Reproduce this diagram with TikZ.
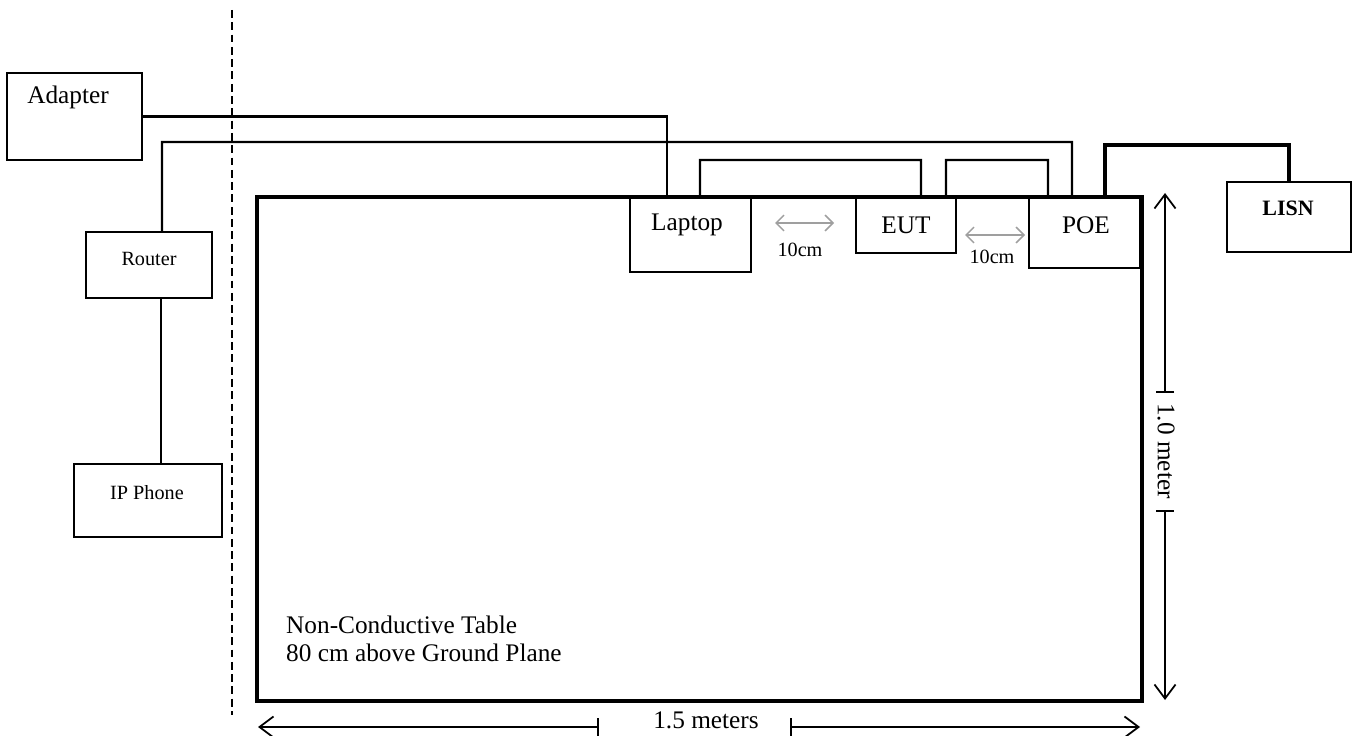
\documentclass[tikz,border=0pt]{standalone}
\usepackage{fontspec}
\setmainfont{Liberation Serif}
\usetikzlibrary{arrows.meta}

\begin{document}
\begin{tikzpicture}[x=0.02cm, y=-0.02cm,
  box/.style={draw, line width=1.2pt, inner sep=0pt},
  cable/.style={line width=1.2pt},
  big/.style={font=\fontsize{14.4}{16}\selectfont},
  small/.style={font=\fontsize{11.5}{14}\selectfont},
  dim/.style={line width=1pt},
  gap/.style={gray!75, line width=0.9pt, {Straight Barb[length=4.5pt,width=9pt]}-{Straight Barb[length=4.5pt,width=9pt]}}]
\useasboundingbox (0,0) rectangle (1360,736);

\draw[line width=1.1pt, dash pattern=on 4.5pt off 2.5pt] (232,10) -- (232,715);

\node[draw, line width=2.3pt, minimum width=17.7cm, minimum height=10.08cm] (table) at (699.5,449) {};

\node[box, minimum width=2.7cm, minimum height=1.74cm] (adapter) at (74.5,116.5) {};
\node[box, minimum width=2.52cm, minimum height=1.32cm] (router) at (149,265) {};
\node[box, minimum width=2.96cm, minimum height=1.46cm] (phone) at (148,500.5) {};
\node[box, minimum width=2.42cm, minimum height=1.5cm] (laptop) at (690.5,234.5) {};
\node[box, minimum width=2cm, minimum height=1.12cm] (eut) at (906,225) {};
\node[box, minimum width=2.22cm, minimum height=1.42cm] (poe) at (1084.5,232.5) {};
\node[box, minimum width=2.48cm, minimum height=1.4cm] (lisn) at (1289,217) {};

\node[big] (adaptertxt) at (68,97) {Adapter};
\node[small] (routertxt) at (149,259) {Router};
\node[small] (phonetxt) at (147,493) {IP Phone};
\node[big] (laptoptxt) at (687,225) {Laptop};
\node[big] (euttxt) at (906,225) {EUT};
\node[big] (poetxt) at (1086,225) {POE};
\node[font=\fontsize{12.5}{14}\selectfont\bfseries] (lisntxt) at (1288,208) {LISN};

\draw[cable] (adapter.east) -| ([xshift=-0.47cm]laptop.north);
\draw[cable] ([xshift=0.26cm]router.north) |- (1072,142) -- ([xshift=-0.25cm]poe.north);
\draw[cable] ([xshift=0.24cm]router.south) -- ([xshift=0.24cm]router.south |- phone.north);
\draw[cable] ([xshift=0.19cm]laptop.north) |- (921,160) -- ([xshift=0.3cm]eut.north);
\draw[cable] ([xshift=0.8cm]eut.north) |- (1048,160) -- ([xshift=-0.73cm]poe.north);
\draw[line width=1.9pt] ([xshift=0.41cm]poe.north) |- (1289,145) -- (lisn.north);

\draw[gap] (775,223) -- (834,223);
\draw[gap] (965,235) -- (1025,235);
\node[small] (gapa) at (800,250) {10cm};
\node[small] (gapb) at (992,257) {10cm};

\node[big, align=left, anchor=west] (tabletxt) at (280,639) {Non-Conductive Table\\80 cm above Ground Plane};

\coordinate (wl) at (258,727);
\coordinate (wr) at (1140,727);
\draw[dim, {Straight Barb[length=8pt,width=12pt]}-{Bar[width=0.36cm]}] (wl) -- (599,727);
\draw[dim, {Bar[width=0.36cm]}-{Straight Barb[length=8pt,width=12pt]}] (790,727) -- (wr);
\node[big] (wtxt) at (706,720) {1.5 meters};

\coordinate (ht) at (1165,193);
\coordinate (hb) at (1165,700);
\draw[dim, {Straight Barb[length=8pt,width=12pt]}-{Bar[width=0.36cm]}] (ht) -- (1165,393);
\draw[dim, {Bar[width=0.36cm]}-{Straight Barb[length=8pt,width=12pt]}] (1165,510) -- (hb);
\node[big, rotate=-90] (htxt) at (1166,451) {1.0 meter};
\end{tikzpicture}
\end{document}
